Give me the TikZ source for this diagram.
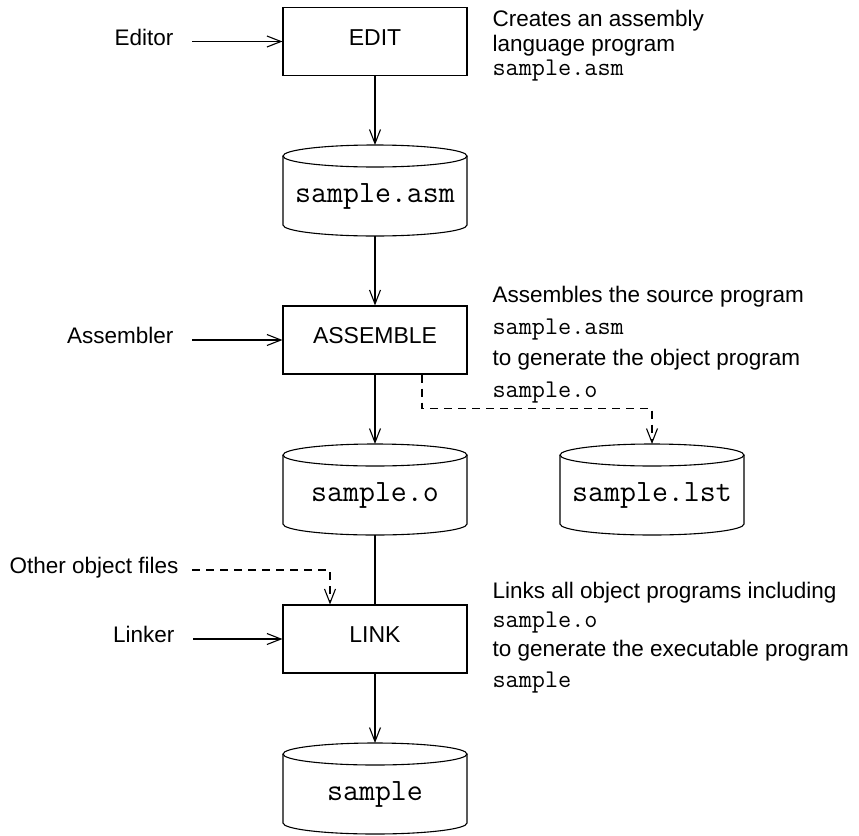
\documentclass[tikz,border=0pt]{standalone}
\usepackage{fontspec}
\setmainfont{Liberation Sans}
\usetikzlibrary{arrows.meta,calc}

\newcommand\cylnode[4]{% name, cx, top, text
  \draw (#2,#3+11) ellipse [x radius=92pt, y radius=11pt];
  \draw (#2-92,#3+11) -- (#2-92,#3+80) arc[start angle=180,end angle=360,x radius=92pt,y radius=11pt] -- (#2+92,#3+11);
  \coordinate (#1-top) at (#2,#3);
  \coordinate (#1-bot) at (#2,#3+91);
  \node[cyltext] (#1) at (#2,#3+55) {#4};
}

\begin{document}
\begin{tikzpicture}[x=1pt,y=-1pt, line width=1.1pt,
  >={Straight Barb[length=14pt,width=11pt,line width=1.1pt]},
  lbl/.style={font=\fontsize{22.5}{27}\selectfont, inner sep=0pt},
  ltext/.style={lbl, anchor=east, text height=0.72em, text depth=0pt},
  rtext/.style={lbl, anchor=base west},
  rmono/.style={anchor=base west, inner sep=0pt, font=\ttfamily\fontsize{25.5}{27}\selectfont},
  proc/.style={draw, minimum width=184pt, minimum height=68pt, inner sep=0pt,
     font=\fontsize{23}{27}\selectfont, text height=0.72em, text depth=0pt},
  cyltext/.style={anchor=mid, inner sep=0pt, font=\ttfamily\fontsize{31}{33}\selectfont},
  dsh/.style={dash pattern=on 8pt off 6pt}]
\useasboundingbox (0,0) rectangle (859,835);

% process boxes
\node[proc] (edit) at (375,41.5) {EDIT};
\node[proc] (assemble) at (375,340) {ASSEMBLE};
\node[proc] (link) at (375,639) {LINK};

% cylinders
\cylnode{asm}{375}{145}{sample.asm}
\cylnode{obj}{375}{444}{sample.o}
\cylnode{lst}{652}{444}{sample.lst}
\cylnode{exe}{375}{743}{sample}

% left labels
\node[ltext] (editor) at (174,42) {Editor};
\node[ltext] (assembler) at (174,340) {Assembler};
\node[ltext] (linker) at (175,639) {Linker};
\node[ltext] (other) at (179,570) {Other object files};

% right texts
\node[rtext] (t1) at (492,27) {Creates an assembly};
\node[rtext] (t2) at (492,51) {language program};
\node[rmono] (t3) at (492,75) {sample.asm};

\node[rtext] (a1) at (492,302) {Assembles the source program};
\node[rmono] (a2) at (492,334) {sample.asm};
\node[rtext] (a3) at (492,365) {to generate the object program};
\node[rmono] (a4) at (492,397) {sample.o};

\node[rtext] (l1) at (492,598) {Links all object programs including};
\node[rmono] (l2) at (492,627) {sample.o};
\node[rtext] (l3) at (492,656) {to generate the executable program};
\node[rmono] (l4) at (492,687) {sample};

% connectors
\draw[->] ([xshift=18pt]edit.west -| editor.east) -- (edit.west);
\draw[->] ([xshift=18pt]assemble.west -| assembler.east) -- (assemble.west);
\draw[->] ([xshift=18pt]link.west -| linker.east) -- (link.west);

\draw[->] (edit.south) -- (asm-top);
\draw[->] (asm-bot) -- (assemble.north);
\draw[->] (assemble.south) -- (obj-top);
\draw (obj-bot) -- (link.north);
\draw[->] (link.south) -- (exe-top);

\draw[dsh,->] ([xshift=47pt]assemble.south) -- ++(0,34) -| (lst-top);
\draw[dsh,->] ([xshift=13pt]other.east) -| ([xshift=-45pt]link.north);
\end{tikzpicture}
\end{document}
